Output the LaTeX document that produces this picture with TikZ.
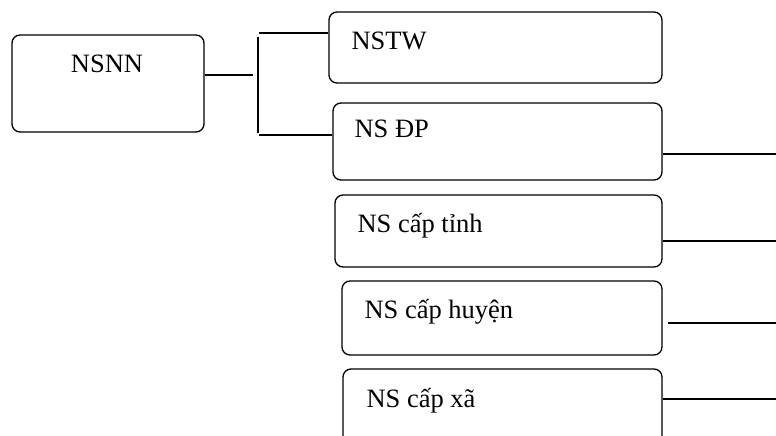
\documentclass[tikz,border=0pt]{standalone}
\usepackage{fontspec}
\setmainfont{Liberation Serif}
\usetikzlibrary{calc}

\begin{document}
\begin{tikzpicture}[x=1pt, y=-1pt,
  every node/.style={font=\fontsize{26.5}{31}\selectfont},
  budget/.style={draw, line width=1.3pt, rounded corners=8pt, inner sep=0pt},
  budgettext/.style={anchor=base west, inner sep=0pt},
  link/.style={line width=1.2pt}]
\clip (0,0) rectangle (776,436);

% NSNN
\node[budget, minimum width=192pt, minimum height=97pt] (nsnn) at (108,83.5) {};
\node[anchor=base, inner sep=0pt] (nsnntext) at ($(nsnn.north)+(-1,38)$) {NSNN};

% NSTW
\node[budget, minimum width=333pt, minimum height=71pt] (nstw) at (495.5,47.5) {};
\node[budgettext] (nstwtext) at ($(nstw.north west)+(23,38)$) {NSTW};

% NS DP
\node[budget, minimum width=329pt, minimum height=77pt] (nsdp) at (497.5,141.5) {};
\node[budgettext] (nsdptext) at ($(nsdp.north west)+(22,35)$) {NS ĐP};

% cap tinh
\node[budget, minimum width=327pt, minimum height=72pt] (nstinh) at (498.5,231) {};
\node[budgettext] (nstinhtext) at ($(nstinh.north west)+(23,38)$) {NS cấp tỉnh};

% cap huyen
\node[budget, minimum width=320pt, minimum height=74pt] (nshuyen) at (502,318) {};
\node[budgettext] (nshuyentext) at ($(nshuyen.north west)+(23,38)$) {NS cấp huyện};

% cap xa
\node[budget, minimum width=319pt, minimum height=80pt] (nsxa) at (502.5,409) {};
\node[budgettext] (nsxatext) at ($(nsxa.north west)+(24,39)$) {NS cấp xã};

% bracket
\coordinate (jmid) at (253,75);
\coordinate (jtop) at (258,37);
\coordinate (jbot) at (258,133);
\coordinate (ttop) at (259,33);
\coordinate (tbot) at (259,135);
\draw[line width=1.8pt] (nsnn.east |- jmid) -- (jmid);
\draw[link] (jtop) -- (jbot);
\draw[link] (ttop) -- (nstw.west |- ttop);
\draw[link] (tbot) -- (nsdp.west |- tbot);

% right lines
\coordinate (dpend) at (776,154);
\coordinate (tinhend) at (776,241);
\coordinate (huyenend) at (776,323);
\coordinate (huyenstart) at (668,323);
\coordinate (xaend) at (776,399);
\draw[link] (nsdp.east |- dpend) -- (dpend);
\draw[link] (nstinh.east |- tinhend) -- (tinhend);
\draw[link] (huyenstart) -- (huyenend);
\draw[link] (nsxa.east |- xaend) -- (xaend);
\end{tikzpicture}
\end{document}
